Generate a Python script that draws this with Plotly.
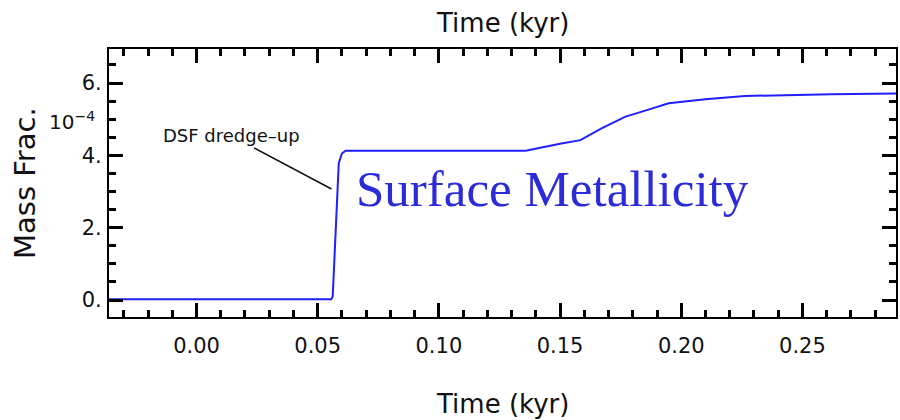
import plotly.graph_objects as go

# Surface metal mass fraction (units of 1e-4) versus time (kyr)
time_kyr = [-0.0361, 0.0000, 0.0300, 0.0556, 0.0562, 0.0572, 0.0587, 0.0600,
            0.0615, 0.0800, 0.1000, 0.1200, 0.1358, 0.1500, 0.1584, 0.1673,
            0.1770, 0.1858, 0.1948, 0.2099, 0.2263, 0.2620, 0.2894]
mass_frac = [0.02, 0.02, 0.02, 0.02, 0.10, 1.60, 3.78, 4.05,
             4.13, 4.13, 4.13, 4.13, 4.13, 4.32, 4.42, 4.75,
             5.07, 5.25, 5.44, 5.55, 5.64, 5.69, 5.71]

y_tick_vals = [0, 2, 4, 6]
y_tick_text = ["0.", "2.", "4.", "6."]
x_tick_vals = [0.00, 0.05, 0.10, 0.15, 0.20, 0.25]
x_tick_text = ["0.00", "0.05", "0.10", "0.15", "0.20", "0.25"]

x_range = [-0.0361, 0.2886]
y_range = [-0.47, 6.94]

dredge_time = 0.0557
dredge_level = 3.07

FONT = "DejaVu Sans"

fig = go.Figure()
fig.add_trace(go.Scatter(
    x=time_kyr, y=mass_frac, mode="lines",
    line=dict(color="#1f1fff", width=2),
    hoverinfo="skip", showlegend=False,
))

axis_common = dict(
    showgrid=False, zeroline=False,
    showline=True, linecolor="black", linewidth=2,
    mirror="allticks", ticks="inside", ticklen=14, tickwidth=2.5,
    tickcolor="black",
    tickfont=dict(family=FONT, size=21, color="#111"),
)

fig.update_xaxes(
    range=x_range, tickvals=x_tick_vals, ticktext=x_tick_text,
    ticklabelstandoff=9,
    minor=dict(ticks="inside", ticklen=7, tickwidth=2.5, tickcolor="black", dtick=0.01, tick0=0),
    **axis_common,
)
fig.update_yaxes(
    range=y_range, tickvals=y_tick_vals, ticktext=y_tick_text,
    ticklabelstandoff=1,
    minor=dict(ticks="inside", ticklen=7, tickwidth=2.5, tickcolor="black", dtick=0.5, tick0=0),
    **axis_common,
)

fig.add_annotation(
    x=dredge_time, y=dredge_level, xref="x", yref="y",
    text="DSF dredge\u2013up", showarrow=True, arrowhead=0, arrowwidth=1.5,
    arrowcolor="#111", ax=-100, ay=-53,
    font=dict(family=FONT, size=18, color="#111"),
)

fig.add_annotation(
    x=0.5, y=1, xref="paper", yref="paper", yshift=26,
    text="Time (kyr)", showarrow=False, yanchor="middle",
    font=dict(family=FONT, size=26, color="#111"),
)
fig.add_annotation(
    x=0.5, y=0, xref="paper", yref="paper", yshift=-87,
    text="Time (kyr)", showarrow=False, yanchor="middle",
    font=dict(family=FONT, size=26, color="#111"),
)
fig.add_annotation(
    x=-0.0, y=0.5, xref="paper", yref="paper", xshift=-84,
    text="Mass Frac.", showarrow=False, textangle=-90, xanchor="center",
    font=dict(family=FONT, size=29, color="#111"),
)
fig.add_annotation(
    x=0, y=1, xref="paper", yref="paper", xshift=-37, yshift=-72,
    text="10<sup>\u22124</sup>", showarrow=False, xanchor="center", yanchor="middle",
    font=dict(family=FONT, size=20, color="#111"),
)
fig.add_annotation(
    x=0.5635, y=0.5, xref="paper", yref="paper", yshift=-6,
    text="Surface Metallicity", showarrow=False, xanchor="center", yanchor="middle",
    font=dict(family="Liberation Serif", size=51, color="#2b2bd9"),
)

fig.update_layout(
    width=900, height=420,
    margin=dict(l=109, r=2, t=49, b=103),
    paper_bgcolor="white", plot_bgcolor="white",
)

fig.write_html("out.html")
